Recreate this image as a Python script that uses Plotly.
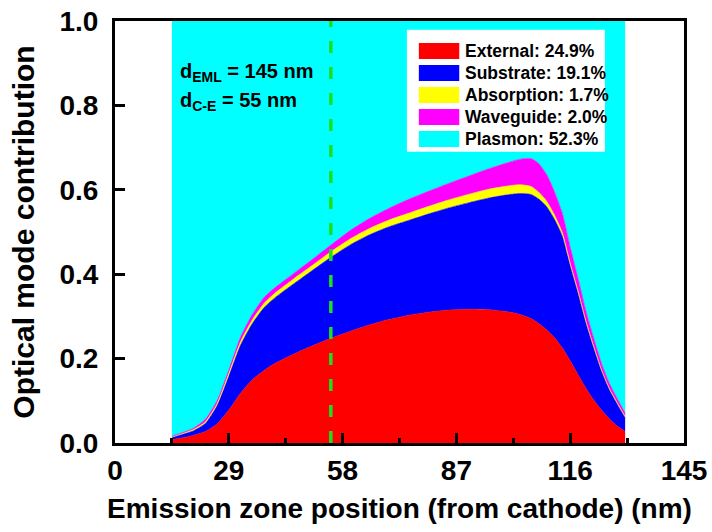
import plotly.graph_objects as go

# ---- data ----
position_nm = [14.5, 17, 20, 23, 26, 29, 32, 35, 38, 41, 44, 47, 50, 55, 60, 65, 70, 75,
               80, 85, 90, 95, 100, 103, 106, 108, 110, 112, 114, 116, 118, 120, 122,
               124, 126, 128, 130]

external = [0.008, 0.012, 0.018, 0.027, 0.045, 0.078, 0.118, 0.150, 0.172, 0.190, 0.204,
            0.217, 0.229, 0.248, 0.265, 0.280, 0.293, 0.303, 0.310, 0.315, 0.317, 0.316,
            0.311, 0.305, 0.295, 0.283, 0.268, 0.250, 0.225, 0.195, 0.162, 0.130, 0.102,
            0.078, 0.057, 0.040, 0.027]

substrate = [0.005, 0.008, 0.011, 0.019, 0.043, 0.080, 0.114, 0.133, 0.149, 0.156, 0.163,
             0.170, 0.178, 0.192, 0.205, 0.214, 0.220, 0.225, 0.233, 0.242, 0.252, 0.264,
             0.277, 0.286, 0.294, 0.295, 0.292, 0.280, 0.265, 0.225, 0.193, 0.155, 0.123,
             0.092, 0.069, 0.052, 0.033]

absorption = [0.001, 0.002, 0.003, 0.004, 0.005, 0.007, 0.008, 0.009, 0.010, 0.011, 0.011,
              0.012, 0.012, 0.013, 0.014, 0.015, 0.016, 0.017, 0.018, 0.019, 0.020, 0.021,
              0.021, 0.021, 0.019, 0.016, 0.013, 0.010, 0.008, 0.006, 0.005, 0.004, 0.004,
              0.003, 0.003, 0.003, 0.003]

waveguide = [0.002, 0.002, 0.003, 0.006, 0.007, 0.008, 0.011, 0.013, 0.014, 0.013, 0.013,
             0.013, 0.014, 0.016, 0.020, 0.024, 0.028, 0.033, 0.036, 0.039, 0.043, 0.048,
             0.055, 0.060, 0.066, 0.068, 0.063, 0.055, 0.046, 0.038, 0.030, 0.024, 0.019,
             0.015, 0.012, 0.010, 0.008]

plasmon = [0.984, 0.976, 0.965, 0.944, 0.900, 0.827, 0.749, 0.695, 0.655, 0.630, 0.609,
           0.588, 0.567, 0.531, 0.496, 0.467, 0.443, 0.422, 0.403, 0.385, 0.368, 0.351,
           0.336, 0.328, 0.326, 0.338, 0.364, 0.405, 0.456, 0.536, 0.610, 0.687, 0.752,
           0.812, 0.859, 0.895, 0.929]

mode_names = ["External: 24.9%", "Substrate: 19.1%", "Absorption: 1.7%",
              "Waveguide: 2.0%", "Plasmon: 52.3%"]
mode_colors = ["#FF0000", "#0000FF", "#FFFF00", "#FF00FF", "#00FFFF"]

x_ticks = [0, 29, 58, 87, 116, 145]
cathode_emitter_distance = 55

FONT = "Liberation Sans, Arial, sans-serif"

fig = go.Figure()
series = [external, substrate, absorption, waveguide, plasmon]
for name, color, vals in zip(mode_names, mode_colors, series):
    fig.add_trace(go.Scatter(
        x=position_nm, y=vals, name=name, mode="lines",
        stackgroup="modes", fillcolor=color,
        line=dict(color=color, width=0.6, shape="spline", smoothing=0.6),
        showlegend=False, hoverinfo="x+y+name",
    ))

# dashed marker of the emitter position
fig.add_shape(type="line", xref="x", yref="y", x0=cathode_emitter_distance,
              x1=cathode_emitter_distance, y0=0, y1=1,
              line=dict(color="#1BE01B", width=3.5, dash="12px,14px"), layer="above")

# custom legend (white box with coloured swatches)
lx0, lx1, ly0, ly1 = 0.513, 0.861, 0.690, 0.979
fig.add_shape(type="rect", xref="paper", yref="paper", x0=lx0, x1=lx1, y0=ly0, y1=ly1,
              fillcolor="white", line=dict(width=0), layer="above")
row_top = 0.929
row_step = 0.0522
half_h = 0.019
for i, (name, color) in enumerate(zip(mode_names, mode_colors)):
    yc = row_top - i * row_step
    fig.add_shape(type="rect", xref="paper", yref="paper", x0=0.534, x1=0.605,
                  y0=yc - half_h, y1=yc + half_h, fillcolor=color,
                  line=dict(width=0), layer="above")
    fig.add_annotation(xref="paper", yref="paper", x=0.612, y=yc, text=name,
                       showarrow=False, xanchor="left", yanchor="middle",
                       font=dict(family=FONT, size=17.5, color="black", weight="bold"))

fig.add_annotation(xref="paper", yref="paper", x=0.110, y=0.877,
                   text="d<sub>EML</sub> = 145 nm", showarrow=False,
                   xanchor="left", yanchor="middle",
                   font=dict(family=FONT, size=20, color="black", weight="bold"))
fig.add_annotation(xref="paper", yref="paper", x=0.110, y=0.810,
                   text="d<sub>C-E</sub> = 55 nm", showarrow=False,
                   xanchor="left", yanchor="middle",
                   font=dict(family=FONT, size=20, color="black", weight="bold"))

axis_common = dict(showline=True, linecolor="black", linewidth=3, mirror=True,
                   ticks="inside", tickcolor="black", tickwidth=2.5, ticklen=10,
                   showgrid=False, zeroline=False, automargin=False,
                   tickfont=dict(family=FONT, size=28, color="black", weight="bold"))

fig.update_layout(
    width=712, height=532,
    margin=dict(l=115, r=28, t=21, b=89),
    paper_bgcolor="white", plot_bgcolor="white",
    font=dict(family=FONT, color="black"),
    xaxis=dict(range=[0, 145], tickmode="array", tickvals=x_ticks,
               minor=dict(ticks="inside", ticklen=5, tickwidth=2.5, tickcolor="black",
                          tickmode="linear", tick0=0, dtick=14.5),
               ticklabelstandoff=0,
               title=dict(text="Emission zone position (from cathode) (nm)", standoff=14,
                          font=dict(family=FONT, size=28, color="black", weight="bold")),
               **axis_common),
    yaxis=dict(range=[0, 1.0], tick0=0, dtick=0.2, tickformat=".1f",
               ticklabelstandoff=8,
               title=dict(text="Optical mode contribution", standoff=16,
                          font=dict(family=FONT, size=30, color="black", weight="bold")),
               **axis_common),
)

fig.write_html("out.html")
